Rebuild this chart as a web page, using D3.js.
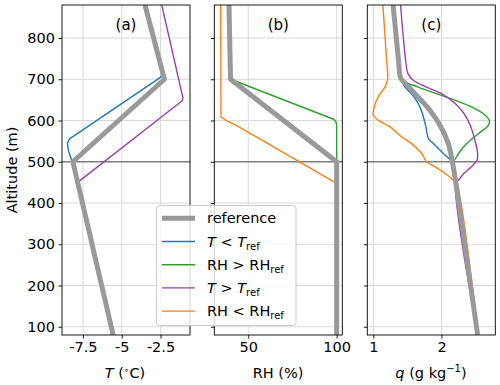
<!DOCTYPE html>
<html>
<head>
<meta charset="utf-8">
<script src="https://cdn.jsdelivr.net/npm/d3@7"></script>
<style>
  body { margin: 0; background: #fff; }
  svg text { font-family: "DejaVu Sans", sans-serif; fill: #000; }
</style>
</head>
<body>
<svg id="chart" width="500" height="385"></svg>
<script>
// altitude ticks (m)
var altTicks = [100, 200, 300, 400, 500, 600, 700, 800];

// panel (a) temperature (degC)
var tRefAlt = [80, 500, 700, 880];
var tRef = [-5.55, -8.15, -2.25, -3.5];
var tColdAlt = [80, 500, 528, 545, 556, 562, 702, 710, 880];
var tCold = [-5.55, -8.2, -8.44, -8.5, -8.36, -8.1, -2.6, -2.36, -3.5];
var tWarmAlt = [80, 450, 648, 656, 662, 880];
var tWarm = [-5.55, -7.84, -1.1, -1.05, -1.1, -2.42];

// panel (b) relative humidity (%)
var rhRefAlt = [80, 500, 700, 880];
var rhRef = [100, 100, 40, 39.1];
var rhMoistAlt = [80, 500, 590, 597, 603, 700, 880];
var rhMoist = [100, 100, 100, 99.6, 98.3, 40, 39.1];
var rhDryAlt = [80, 448, 452, 585, 597, 608, 880];
var rhDry = [100, 100, 98.3, 44.5, 38.7, 34.6, 34.4];

// panel (c) specific humidity (g/kg)
var qRefAlt = [80, 450, 500, 544, 585, 625, 665, 690, 700, 710, 745, 880];
var qRef = [2.53, 2.21, 2.16, 2.10, 1.99, 1.83, 1.61, 1.47, 1.41, 1.39, 1.37, 1.29];
var qColdAlt = [80, 450, 500, 512, 528, 544, 556, 585, 617, 641, 665, 681, 700, 745, 880];
var qCold = [2.53, 2.21, 2.16, 2.08, 1.98, 1.88, 1.81, 1.77, 1.72, 1.66, 1.56, 1.465, 1.41, 1.37, 1.29];
var qMoistAlt = [80, 450, 500, 504, 520, 544, 568, 589, 601, 617, 633, 649, 665, 681, 700, 745, 880];
var qMoist = [2.53, 2.21, 2.16, 2.19, 2.25, 2.37, 2.54, 2.69, 2.70, 2.61, 2.44, 2.20, 1.93, 1.66, 1.41, 1.37, 1.29];
var qWarmAlt = [80, 450, 456, 472, 488, 504, 520, 552, 585, 617, 641, 665, 681, 697, 713, 745, 880];
var qWarm = [2.53, 2.21, 2.25, 2.33, 2.44, 2.52, 2.53, 2.49, 2.43, 2.33, 2.20, 2.0, 1.78, 1.59, 1.51, 1.475, 1.40];
var qDryAlt = [80, 448, 456, 472, 488, 500, 520, 544, 560, 585, 601, 613, 633, 657, 681, 700, 745, 880];
var qDry = [2.53, 2.22, 2.17, 2.05, 1.90, 1.78, 1.71, 1.56, 1.42, 1.24, 1.07, 1.0, 1.015, 1.07, 1.17, 1.21, 1.196, 1.14];

var colors = {ref: "#999999", cold: "#1f77b4", moist: "#2ca02c", warm: "#9a3fb0", dry: "#ff7f0e"};

var svg = d3.select("#chart");
var top_ = 5, bottom = 335;
var y = d3.scaleLinear().domain([80, 880]).range([bottom, top_]);

function zip(alts, vals) {
    return alts.map((a, i) => ({alt: a, v: vals[i]}));
}

function drawPanel(opts) {
    let x = d3.scaleLinear().domain(opts.domain).range(opts.range);
    let g = svg.append("g");
    let x0 = opts.range[0], x1 = opts.range[1];

    // grid
    g.selectAll(".gx").data(opts.xTicks).enter().append("line")
        .attr("x1", d => x(d)).attr("x2", d => x(d))
        .attr("y1", top_).attr("y2", bottom)
        .attr("stroke", "#d9d9d9").attr("stroke-width", 1);
    g.selectAll(".gy").data(altTicks).enter().append("line")
        .attr("x1", x0).attr("x2", x1)
        .attr("y1", d => y(d)).attr("y2", d => y(d))
        .attr("stroke", "#d9d9d9").attr("stroke-width", 1);

    // 500 m line
    g.append("line")
        .attr("x1", x0).attr("x2", x1)
        .attr("y1", y(500)).attr("y2", y(500))
        .attr("stroke", "#808080").attr("stroke-width", 1.6);

    let clipId = "clip" + opts.name;
    svg.append("clipPath").attr("id", clipId).append("rect")
        .attr("x", x0).attr("y", top_).attr("width", x1 - x0).attr("height", bottom - top_);

    let line = d3.line()
        .x(d => x(d.v)).y(d => y(d.alt))
        .curve(opts.curve);

    let lg = g.append("g").attr("clip-path", `url(#${clipId})`);
    opts.series.forEach(s => {
        lg.append("path")
            .datum(zip(s.alt, s.v))
            .attr("d", line)
            .attr("fill", "none")
            .attr("stroke", colors[s.key])
            .attr("stroke-width", 1.4)
            .attr("stroke-linejoin", "round");
    });
    lg.append("path")
        .datum(zip(opts.ref.alt, opts.ref.v))
        .attr("d", line)
        .attr("fill", "none")
        .attr("stroke", colors.ref)
        .attr("stroke-width", 5)
        .attr("stroke-linejoin", "round");

    // axes
    let xAxis = d3.axisBottom(x).tickValues(opts.xTicks).tickSize(3.5).tickPadding(3.5)
        .tickFormat(opts.fmt);
    let gx = g.append("g").attr("transform", `translate(0,${bottom})`).call(xAxis);
    let yAxis = d3.axisLeft(y).tickValues(altTicks).tickSize(3.5).tickPadding(3.5);
    if (!opts.yLabels) yAxis.tickFormat("");
    let gy = g.append("g").attr("transform", `translate(${x0},0)`).call(yAxis);
    [gx, gy].forEach(a => {
        a.select(".domain").remove();
        a.selectAll("text").style("font-size", "14.5px").attr("fill", "#000");
        a.selectAll("line").attr("stroke", "#000").attr("stroke-width", 0.9);
    });

    g.append("rect")
        .attr("x", x0).attr("y", top_).attr("width", x1 - x0).attr("height", bottom - top_)
        .attr("fill", "none").attr("stroke", "#000").attr("stroke-width", 0.9);

    g.append("text")
        .attr("x", (x0 + x1) / 2).attr("y", 30)
        .attr("text-anchor", "middle")
        .style("font-size", "15px")
        .text(opts.title);
    return g;
}

drawPanel({
    name: "a", domain: [-8.85, -0.6], range: [62, 190],
    xTicks: [-7.5, -5, -2.5], fmt: d => String(d), yLabels: true,
    curve: d3.curveLinear, title: "(a)",
    ref: {alt: tRefAlt, v: tRef},
    series: [
        {key: "cold", alt: tColdAlt, v: tCold},
        {key: "moist", alt: tRefAlt, v: tRef},
        {key: "warm", alt: tWarmAlt, v: tWarm},
        {key: "dry", alt: tRefAlt, v: tRef}
    ]
});

drawPanel({
    name: "b", domain: [30.8, 103.2], range: [214.3, 342.3],
    xTicks: [50, 100], fmt: d => String(d), yLabels: false,
    curve: d3.curveLinear, title: "(b)",
    ref: {alt: rhRefAlt, v: rhRef},
    series: [
        {key: "cold", alt: rhRefAlt, v: rhRef},
        {key: "moist", alt: rhMoistAlt, v: rhMoist},
        {key: "warm", alt: rhRefAlt, v: rhRef},
        {key: "dry", alt: rhDryAlt, v: rhDry}
    ]
});

drawPanel({
    name: "c", domain: [0.912, 2.789], range: [367.3, 495.3],
    xTicks: [1, 2], fmt: d => String(d), yLabels: false,
    curve: d3.curveCatmullRom.alpha(0.5), title: "(c)",
    ref: {alt: qRefAlt, v: qRef},
    series: [
        {key: "cold", alt: qColdAlt, v: qCold},
        {key: "moist", alt: qMoistAlt, v: qMoist},
        {key: "warm", alt: qWarmAlt, v: qWarm},
        {key: "dry", alt: qDryAlt, v: qDry}
    ]
});

// axis labels
svg.append("text")
    .attr("transform", "translate(17,170) rotate(-90)")
    .attr("text-anchor", "middle")
    .style("font-size", "14.5px")
    .text("Altitude (m)");

let tl = svg.append("text").attr("x", 125).attr("y", 378)
    .attr("text-anchor", "middle").style("font-size", "14.5px");
tl.append("tspan").style("font-style", "italic").text("T");
tl.append("tspan").text(" (");
tl.append("tspan").attr("dy", -5).style("font-size", "9px").text("∘");
tl.append("tspan").attr("dy", 5).text("C)");

svg.append("text").attr("x", 278).attr("y", 378)
    .attr("text-anchor", "middle").style("font-size", "14.5px")
    .text("RH (%)");

let ql = svg.append("text").attr("x", 431).attr("y", 378)
    .attr("text-anchor", "middle").style("font-size", "14.5px");
ql.append("tspan").style("font-style", "italic").text("q");
ql.append("tspan").text(" (g kg");
ql.append("tspan").attr("dy", -6).style("font-size", "10px").text("−1");
ql.append("tspan").attr("dy", 6).text(")");

// legend
var legendItems = [
    {key: "ref", parts: [["reference", ""]]},
    {key: "cold", parts: [["T", "i"], [" < ", ""], ["T", "i"], ["ref", "s"]]},
    {key: "moist", parts: [["RH > RH", ""], ["ref", "s"]]},
    {key: "warm", parts: [["T", "i"], [" > ", ""], ["T", "i"], ["ref", "s"]]},
    {key: "dry", parts: [["RH < RH", ""], ["ref", "s"]]}
];

var lgd = svg.append("g");
lgd.append("rect")
    .attr("x", 156.5).attr("y", 205.5).attr("width", 139.5).attr("height", 120)
    .attr("rx", 3).attr("fill", "#fff").attr("fill-opacity", 0.8)
    .attr("stroke", "#cccccc").attr("stroke-width", 1);

legendItems.forEach((it, i) => {
    let cy = 218.3 + i * 23.2;
    lgd.append("line")
        .attr("x1", 162).attr("x2", 195).attr("y1", cy).attr("y2", cy)
        .attr("stroke", colors[it.key])
        .attr("stroke-width", it.key === "ref" ? 5 : 1.4);
    let t = lgd.append("text").attr("x", 207).attr("y", cy + 5)
        .style("font-size", "14.5px");
    it.parts.forEach(p => {
        let sp = t.append("tspan").text(p[0]);
        if (p[1] === "i") sp.style("font-style", "italic");
        if (p[1] === "s") sp.style("font-size", "10px").attr("dy", 3);
    });
});
</script>
</body>
</html>
